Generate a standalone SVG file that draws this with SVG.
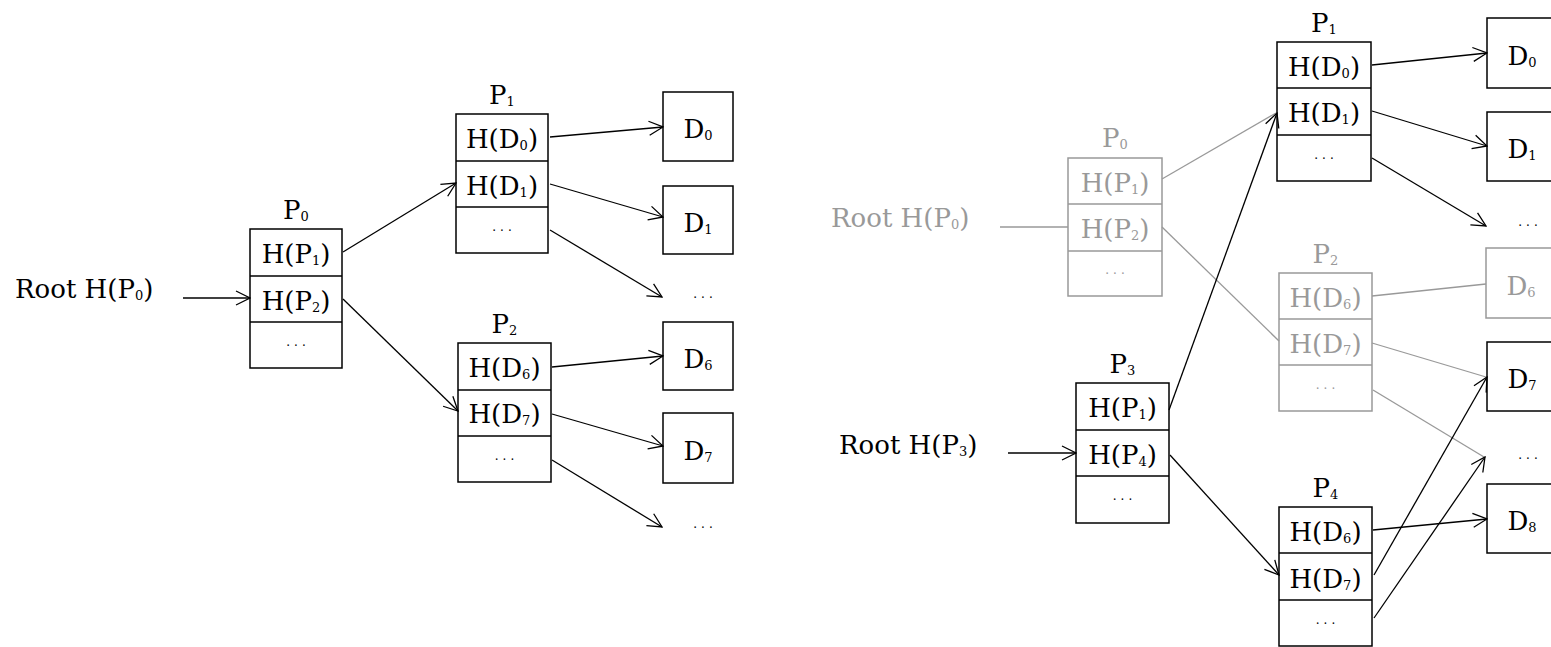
<svg xmlns="http://www.w3.org/2000/svg" width="1551" height="647" viewBox="0 0 1551 647">
<style>
.bx{fill:#fff;stroke:#000;stroke-width:1.5}
.gbx{fill:#fff;stroke:#999;stroke-width:1.5}
.dv{stroke:#000;stroke-width:1.5}
.gdv{stroke:#999;stroke-width:1.5}
text{font-family:"DejaVu Serif","Liberation Serif",serif;font-size:26px;fill:#000}
.m{text-anchor:middle}
.gt{fill:#999}
.sb{font-size:13px}
.dt{font-size:12px;letter-spacing:4px;text-anchor:middle}
.c{fill:none;stroke:#000;stroke-width:1.3;marker-end:url(#a)}
.cg{fill:none;stroke:#999;stroke-width:1.3}
</style>
<defs>
<marker id="a" viewBox="-15 -9 16 18" refX="0" refY="0" markerWidth="16" markerHeight="18" markerUnits="userSpaceOnUse" orient="auto">
<path d="M-14,-7 L0,0 L-14,7" fill="none" stroke="#000" stroke-width="1.3"/>
</marker>
</defs>

<!-- LEFT -->
<g id="root-left"><text x="15" y="298">Root H(P<tspan class="sb" dy="2">0</tspan><tspan dy="-2">)</tspan></text></g>

<g id="L-P0">
<rect class="bx" x="250" y="229" width="92" height="139"/>
<line class="dv" x1="250" y1="276" x2="342" y2="276"/><line class="dv" x1="250" y1="322" x2="342" y2="322"/>
<text class="m" x="296" y="219">P<tspan class="sb" dy="2">0</tspan></text>
<text class="m" x="296" y="263">H(P<tspan class="sb" dy="2">1</tspan><tspan dy="-2">)</tspan></text>
<text class="m" x="296" y="310">H(P<tspan class="sb" dy="2">2</tspan><tspan dy="-2">)</tspan></text>
<text class="dt" x="298" y="346">...</text>
</g>

<g id="L-P1">
<rect class="bx" x="456" y="114" width="92" height="139"/>
<line class="dv" x1="456" y1="161" x2="548" y2="161"/><line class="dv" x1="456" y1="207" x2="548" y2="207"/>
<text class="m" x="502" y="104">P<tspan class="sb" dy="2">1</tspan></text>
<text class="m" x="502" y="148">H(D<tspan class="sb" dy="2">0</tspan><tspan dy="-2">)</tspan></text>
<text class="m" x="502" y="195">H(D<tspan class="sb" dy="2">1</tspan><tspan dy="-2">)</tspan></text>
<text class="dt" x="504" y="231">...</text>
</g>

<g id="L-P2">
<rect class="bx" x="458" y="343" width="93" height="139"/>
<line class="dv" x1="458" y1="390" x2="551" y2="390"/><line class="dv" x1="458" y1="436" x2="551" y2="436"/>
<text class="m" x="504.5" y="333">P<tspan class="sb" dy="2">2</tspan></text>
<text class="m" x="504.5" y="377">H(D<tspan class="sb" dy="2">6</tspan><tspan dy="-2">)</tspan></text>
<text class="m" x="504.5" y="423">H(D<tspan class="sb" dy="2">7</tspan><tspan dy="-2">)</tspan></text>
<text class="dt" x="506.5" y="460">...</text>
</g>

<g id="L-D0"><rect class="bx" x="663" y="92" width="70" height="69"/><text class="m" x="698" y="138">D<tspan class="sb" dy="2">0</tspan></text></g>
<g id="L-D1"><rect class="bx" x="663" y="186" width="70" height="68"/><text class="m" x="698" y="232">D<tspan class="sb" dy="2">1</tspan></text></g>
<g id="L-D6"><rect class="bx" x="663" y="322" width="70" height="68"/><text class="m" x="698" y="368">D<tspan class="sb" dy="2">6</tspan></text></g>
<g id="L-D7"><rect class="bx" x="663" y="413" width="70" height="70"/><text class="m" x="698" y="460">D<tspan class="sb" dy="2">7</tspan></text></g>
<g id="L-more1"><text class="dt" x="705" y="298">...</text></g>
<g id="L-more2"><text class="dt" x="705" y="528">...</text></g>

<!-- RIGHT -->
<g id="root-right-p0"><text class="gt" x="831" y="227">Root H(P<tspan class="sb" dy="2">0</tspan><tspan dy="-2">)</tspan></text></g>
<g id="root-right-p3"><text x="839" y="454">Root H(P<tspan class="sb" dy="2">3</tspan><tspan dy="-2">)</tspan></text></g>

<g id="R-P0">
<rect class="gbx" x="1068" y="158" width="94" height="138"/>
<line class="gdv" x1="1068" y1="204" x2="1162" y2="204"/><line class="gdv" x1="1068" y1="251" x2="1162" y2="251"/>
<text class="m gt" x="1115" y="147">P<tspan class="sb" dy="2">0</tspan></text>
<text class="m gt" x="1115" y="192">H(P<tspan class="sb" dy="2">1</tspan><tspan dy="-2">)</tspan></text>
<text class="m gt" x="1115" y="238">H(P<tspan class="sb" dy="2">2</tspan><tspan dy="-2">)</tspan></text>
<text class="dt gt" x="1117" y="274">...</text>
</g>

<g id="R-P1">
<rect class="bx" x="1277" y="42" width="94" height="139"/>
<line class="dv" x1="1277" y1="88" x2="1371" y2="88"/><line class="dv" x1="1277" y1="135" x2="1371" y2="135"/>
<text class="m" x="1324" y="32">P<tspan class="sb" dy="2">1</tspan></text>
<text class="m" x="1324" y="76">H(D<tspan class="sb" dy="2">0</tspan><tspan dy="-2">)</tspan></text>
<text class="m" x="1324" y="122">H(D<tspan class="sb" dy="2">1</tspan><tspan dy="-2">)</tspan></text>
<text class="dt" x="1326" y="159">...</text>
</g>

<g id="R-P2">
<rect class="gbx" x="1279" y="273" width="93" height="138"/>
<line class="gdv" x1="1279" y1="319" x2="1372" y2="319"/><line class="gdv" x1="1279" y1="365" x2="1372" y2="365"/>
<text class="m gt" x="1325.5" y="263">P<tspan class="sb" dy="2">2</tspan></text>
<text class="m gt" x="1325.5" y="307">H(D<tspan class="sb" dy="2">6</tspan><tspan dy="-2">)</tspan></text>
<text class="m gt" x="1325.5" y="353">H(D<tspan class="sb" dy="2">7</tspan><tspan dy="-2">)</tspan></text>
<text class="dt gt" x="1327.5" y="389">...</text>
</g>

<g id="R-P3">
<rect class="bx" x="1076" y="383" width="93" height="140"/>
<line class="dv" x1="1076" y1="430" x2="1169" y2="430"/><line class="dv" x1="1076" y1="476" x2="1169" y2="476"/>
<text class="m" x="1122.5" y="373">P<tspan class="sb" dy="2">3</tspan></text>
<text class="m" x="1122.5" y="417">H(P<tspan class="sb" dy="2">1</tspan><tspan dy="-2">)</tspan></text>
<text class="m" x="1122.5" y="464">H(P<tspan class="sb" dy="2">4</tspan><tspan dy="-2">)</tspan></text>
<text class="dt" x="1124.5" y="500">...</text>
</g>

<g id="R-P4">
<rect class="bx" x="1279" y="507" width="93" height="139"/>
<line class="dv" x1="1279" y1="553" x2="1372" y2="553"/><line class="dv" x1="1279" y1="600" x2="1372" y2="600"/>
<text class="m" x="1325.5" y="497">P<tspan class="sb" dy="2">4</tspan></text>
<text class="m" x="1325.5" y="541">H(D<tspan class="sb" dy="2">6</tspan><tspan dy="-2">)</tspan></text>
<text class="m" x="1325.5" y="588">H(D<tspan class="sb" dy="2">7</tspan><tspan dy="-2">)</tspan></text>
<text class="dt" x="1327.5" y="624">...</text>
</g>

<g id="R-D0"><rect class="bx" x="1487" y="18" width="70" height="70"/><text class="m" x="1522" y="65">D<tspan class="sb" dy="2">0</tspan></text></g>
<g id="R-D1"><rect class="bx" x="1487" y="112" width="70" height="69"/><text class="m" x="1522" y="158">D<tspan class="sb" dy="2">1</tspan></text></g>
<g id="R-D6"><rect class="gbx" x="1486" y="248" width="70" height="70"/><text class="m gt" x="1521" y="295">D<tspan class="sb" dy="2">6</tspan></text></g>
<g id="R-D7"><rect class="bx" x="1487" y="342" width="70" height="69"/><text class="m" x="1522" y="388">D<tspan class="sb" dy="2">7</tspan></text></g>
<g id="R-D8"><rect class="bx" x="1487" y="484" width="70" height="69"/><text class="m" x="1522" y="530">D<tspan class="sb" dy="2">8</tspan></text></g>
<g id="R-more1"><text class="dt" x="1530" y="226">...</text></g>
<g id="R-more2"><text class="dt" x="1530" y="459">...</text></g>

<g id="connectors">
<line class="c" x1="183" y1="298" x2="250" y2="298"/>
<line class="c" x1="343" y1="252" x2="456" y2="183"/>
<line class="c" x1="343" y1="299" x2="458" y2="411"/>
<line class="c" x1="550" y1="137" x2="663" y2="127"/>
<line class="c" x1="550" y1="184" x2="663" y2="217"/>
<line class="c" x1="550" y1="230" x2="662" y2="297"/>
<line class="c" x1="552" y1="367" x2="663" y2="356"/>
<line class="c" x1="552" y1="414" x2="663" y2="446"/>
<line class="c" x1="552" y1="460" x2="662" y2="527"/>
<line class="cg" x1="1000" y1="227" x2="1068" y2="227"/>
<line class="cg" x1="1162" y1="179" x2="1276" y2="113"/>
<line class="cg" x1="1162" y1="227" x2="1279" y2="341"/>
<line class="cg" x1="1372" y1="296" x2="1486" y2="284"/>
<line class="cg" x1="1372" y1="343" x2="1486" y2="377"/>
<line class="cg" x1="1373" y1="390" x2="1484" y2="457"/>
<line class="c" x1="1008" y1="453" x2="1076" y2="453"/>
<line class="c" x1="1169" y1="410" x2="1277" y2="113"/>
<line class="c" x1="1170" y1="455" x2="1279" y2="575"/>
<line class="c" x1="1372" y1="65" x2="1487" y2="53"/>
<line class="c" x1="1372" y1="111" x2="1487" y2="146"/>
<line class="c" x1="1372" y1="158" x2="1486" y2="226"/>
<line class="c" x1="1373" y1="530" x2="1487" y2="519"/>
<line class="c" x1="1374" y1="575" x2="1487" y2="377"/>
<line class="c" x1="1374" y1="618" x2="1485" y2="457"/>
</g>
</svg>
